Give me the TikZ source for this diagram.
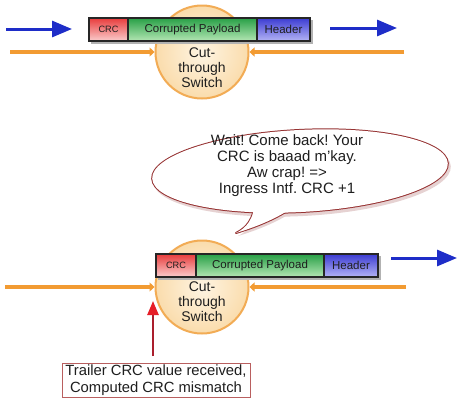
\documentclass[tikz,border=0pt]{standalone}
\usepackage{fontspec}
\setmainfont{Liberation Sans}
\usetikzlibrary{arrows.meta,shapes.geometric}
\definecolor{blueA}{RGB}{30,45,200}
\definecolor{orangeA}{RGB}{242,155,50}
\definecolor{circB}{RGB}{242,172,85}
\definecolor{peachIn}{RGB}{254,244,226}
\definecolor{peachOut}{RGB}{250,220,172}
\definecolor{crcTop}{RGB}{232,60,60}
\definecolor{crcBot}{RGB}{250,205,205}
\definecolor{payTop}{RGB}{40,160,70}
\definecolor{payBot}{RGB}{180,230,180}
\definecolor{hdrTop}{RGB}{60,60,210}
\definecolor{hdrBot}{RGB}{180,180,245}
\definecolor{bubB}{RGB}{150,50,50}
\definecolor{bubS}{RGB}{230,210,210}
\definecolor{redA}{RGB}{230,30,40}
\definecolor{redS}{RGB}{170,30,45}
\definecolor{boxB}{RGB}{185,95,95}
\definecolor{txt}{RGB}{30,30,30}
\frenchspacing
\begin{document}
\begin{tikzpicture}[x=1pt,y=-1pt,
  seg/.style={draw=black!85, line width=1.1pt, minimum height=23pt, inner sep=0pt,
    font=\fontsize{11.5}{13}\selectfont, text=txt},
  crcseg/.style={seg, top color=crcTop, bottom color=crcBot, font=\fontsize{9.2}{11}\selectfont},
  payseg/.style={seg, top color=payTop, bottom color=payBot},
  hdrseg/.style={seg, top color=hdrTop, bottom color=hdrBot},
  pshadow/.style={fill=black!30},
  switchc/.style={circle, draw=circB, line width=2pt, minimum size=93pt, inner sep=0pt,
    inner color=peachIn, outer color=peachOut},
  swtext/.style={align=center, font=\fontsize{14}{15}\selectfont, text=txt, inner sep=0pt},
  orline/.style={draw=orangeA, line width=4pt, -{Triangle[length=5pt,width=9pt]}},
  blarrow/.style={draw=blueA, line width=3pt, -{Triangle[length=20pt,width=16pt]}},
  redarrow/.style={draw=redS, line width=2.5pt, -{Triangle[length=14pt,width=11pt,color=redA]}},
  bubtext/.style={align=center, font=\fontsize{15}{16}\selectfont, text=txt, inner sep=0pt},
  msgbox/.style={draw=boxB, line width=1pt, fill=white, minimum width=188pt, minimum height=34pt,
    inner sep=0pt, align=center, font=\fontsize{14.8}{16.5}\selectfont, text=txt}
]
\useasboundingbox[fill=white] (0,0) rectangle (464,400);

% ---------- top section ----------
\node[switchc] (sw1) at (202,52) {};
\coordinate (ol1a) at (10,52);
\coordinate (ol1b) at (404,52);
\draw[orline] (ol1a) -- (sw1.west);
\draw[orline] (ol1b) -- (sw1.east);
\node[swtext] (t1) at (202,67.5) {Cut-\\through\\Switch};

\fill[pshadow] (91,20) rectangle (313,44);
\node[crcseg, minimum width=39pt] (crc1) at (108.5,29.5) {CRC};
\node[payseg, minimum width=129pt] (pay1) at (192.5,29.5) {Corrupted Payload};
\node[hdrseg, minimum width=53pt] (hdr1) at (283.5,29.5) {Header};

\coordinate (ba1) at (6,29);
\coordinate (ba1e) at (72,29);
\draw[blarrow] (ba1) -- (ba1e);
\coordinate (ba2) at (330,28);
\coordinate (ba2e) at (397,28);
\draw[blarrow] (ba2) -- (ba2e);

% ---------- speech bubble ----------
\begin{scope}[shift={(2,3)}]
  \fill[bubS, rotate around={3:(300,171)}] (300,171) ellipse [x radius=149, y radius=42];
  \fill[bubS] (255,200) .. controls (254,220) and (246,228) .. (236,233)
     .. controls (262,225) and (285,215) .. (302,200) -- cycle;
\end{scope}
\draw[bubB, line width=2pt, rotate around={3:(300,171)}] (300,171) ellipse [x radius=148, y radius=41];
\draw[bubB, line width=2pt, line join=round] (255,200) .. controls (254,220) and (246,228) .. (236,233)
     .. controls (262,225) and (285,215) .. (302,200) -- cycle;
\fill[white, rotate around={3:(300,171)}] (300,171) ellipse [x radius=148, y radius=41];
\fill[white] (255,200) .. controls (254,220) and (246,228) .. (236,233)
     .. controls (262,225) and (285,215) .. (302,200) -- cycle;
\node[bubtext] (bub) at (287,166) {Wait! Come back! Your\\CRC is baaad m'kay.\\Aw crap! =>\\Ingress Intf. CRC +1};

% ---------- bottom section ----------
\node[switchc] (sw2) at (202,287) {};
\coordinate (ol2a) at (5,287);
\coordinate (ol2b) at (406,287);
\draw[orline] (ol2a) -- (sw2.west);
\draw[orline] (ol2b) -- (sw2.east);
\node[swtext] (t2) at (202,302) {Cut-\\through\\Switch};

\fill[pshadow] (158,256) rectangle (381,280);
\node[crcseg, minimum width=40pt] (crc2) at (176,265.5) {CRC};
\node[payseg, minimum width=128pt] (pay2) at (260,265.5) {Corrupted Payload};
\node[hdrseg, minimum width=54pt] (hdr2) at (351,265.5) {Header};

\coordinate (ba3) at (391,258);
\coordinate (ba3e) at (457,258);
\draw[blarrow] (ba3) -- (ba3e);

\node[msgbox] (msg) at (156,380) {Trailer CRC value received,\\Computed CRC mismatch};
\coordinate (ra) at (153,356);
\coordinate (rae) at (153,301);
\draw[redarrow] (ra) -- (rae);
\end{tikzpicture}
\end{document}
